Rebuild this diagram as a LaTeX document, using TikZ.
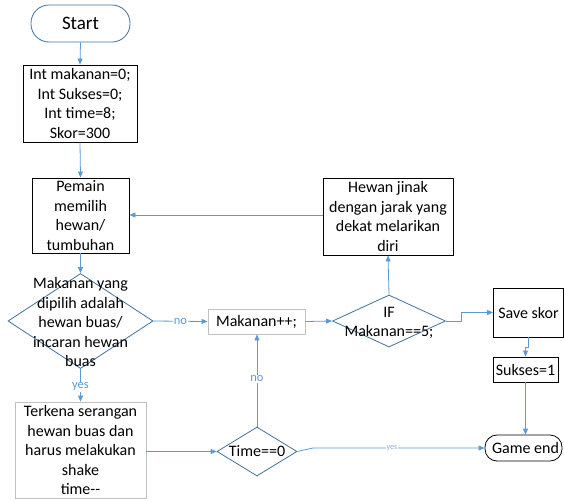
\documentclass[tikz,border=0pt]{standalone}
\usepackage{fontspec}
\setmainfont{Carlito}
\usetikzlibrary{shapes.geometric,arrows.meta}
\definecolor{conn}{HTML}{5B9BD5}
\definecolor{dblue}{HTML}{41719C}
\definecolor{lgray}{HTML}{C0C0C0}
\begin{document}
\begin{tikzpicture}[x=1pt,y=-1pt,
  base/.style={font=\fontsize{16}{19.5}\selectfont, align=center, inner sep=0pt, line width=0.8pt},
  blackbox/.style={base, rectangle, draw=black},
  graybox/.style={base, rectangle, draw=lgray},
  term/.style={base, rectangle, rounded corners=#1},
  dia/.style={diamond, draw=dblue, line width=0.8pt, inner sep=0pt},
  txt/.style={font=\fontsize{16}{19.5}\selectfont, align=center, inner sep=0pt},
  link/.style={draw=conn, line width=0.8pt, -{Triangle[length=6pt,width=5pt]}},
  lab/.style={font=\fontsize{12.5}{14}\selectfont, text=conn, fill=white, inner sep=1pt},
  tinylab/.style={font=\fontsize{8}{9}\selectfont, text=conn!80, fill=white, inner sep=0.5pt}
]
\path[use as bounding box] (0,0) rectangle (564,501);

\node[term=18, draw=dblue, minimum width=99, minimum height=37, font=\fontsize{19}{22}\selectfont] (start) at (80.5,23.5) {Start};
\node[blackbox, minimum width=114, minimum height=77] (init) at (80,103.5) {Int makanan=0;\\Int Sukses=0;\\Int time=8;\\Skor=300};
\node[blackbox, minimum width=97, minimum height=75] (pemain) at (80.5,215.5) {Pemain\\memilih\\hewan/\\tumbuhan};
\node[blackbox, minimum width=130, minimum height=77] (jinak) at (388,216.5) {Hewan jinak\\dengan jarak yang\\dekat melarikan\\diri};

\node[dia, minimum width=145, minimum height=95] (d1) at (80.5,321) {};
\node[txt] (d1t) at (80.5,322) {Makanan yang\\dipilih adalah\\hewan buas/\\incaran hewan\\buas};

\node[graybox, minimum width=97, minimum height=25] (mk) at (256.5,321.5) {Makanan++;};

\node[dia, minimum width=113, minimum height=52] (ifd) at (389,321) {};
\node[txt] (ifdt) at (389,323) {IF\\Makanan==5;};

\node[blackbox, minimum width=70, minimum height=49] (save) at (528.5,312.5) {Save skor};
\node[blackbox, minimum width=65, minimum height=25] (suk) at (525.5,369.5) {Sukses=1};
\node[term=12, draw=black, minimum width=77, minimum height=26] (gend) at (523.5,448) {\hspace{4pt}Game end};

\node[graybox, minimum width=131, minimum height=96] (terk) at (80.5,450) {Terkena serangan\\hewan buas dan\\harus melakukan\\shake\\time{-}{-}};

\node[dia, minimum width=80, minimum height=49] (time) at (257,451.5) {};
\node[txt] (timet) at (257,451.5) {Time==0};

% connectors
\draw[link] (start.south) -- (init.north);
\draw[link] (init.south) -- (pemain.north);
\draw[link] (jinak.west |- 0,215) -- (pemain.east |- 0,215);
\draw[link] (pemain.south) -- (d1.north);
\draw[link] (d1.east) -- node[lab]{no} (mk.west);
\draw[link] (mk.east) -- (ifd.west);
\draw[link] (ifd.north) -- (jinak.south);
\coordinate (e1) at (461.5,321);
\draw[link] (ifd.east) -- (e1) |- (save.west);
\coordinate (e2) at (528.5,347);
\draw[link] (save.south) -- (e2) -| (suk.north);
\draw[link] (suk.south) -- (suk.south |- gend.north);
\draw[link] (d1.south) -- node[lab, pos=0.55]{yes} (d1.south |- terk.north);
\draw[link] (terk.east |- time.west) -- (time.west);
\draw[link] (time.north) -- node[lab, pos=0.52]{no} (time.north |- mk.south);
\coordinate (e3) at (313,448);
\draw[link] (time.east) -- (e3) -- node[tinylab, pos=0.46]{yes} (gend.west);
\end{tikzpicture}
\end{document}
